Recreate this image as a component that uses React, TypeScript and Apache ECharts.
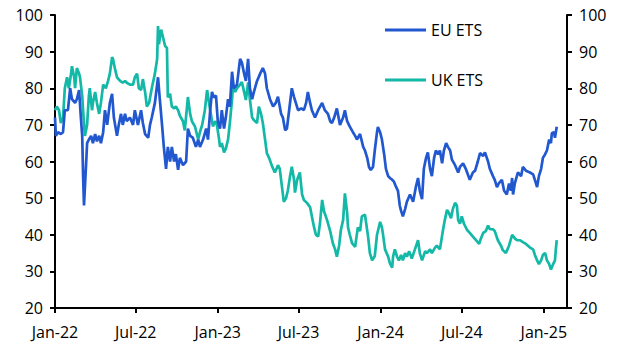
import React, { useEffect, useRef } from "react";
import * as echarts from "echarts";

// Days since 2022-01-01
const euDays = [0,2,7,13,18,22,29,34,38,45,49,54,58,61,63,65,70,72,76,81,85,90,94,99,103,108,112,117,123,128,132,139,143,148,152,157,161,168,175,179,186,193,197,202,209,213,217,224,231,235,240,244,249,253,258,262,267,271,276,280,287,294,298,303,309,316,321,325,332,339,343,348,352,356,361,365,370,374,379,383,388,392,397,401,408,415,419,424,428,433,437,442,446,453,460,466,471,475,482,489,495,500,507,511,516,520,525,531,536,540,545,552,558,563,567,572,576,583,590,599,605,612,617,621,626,632,639,646,650,655,661,668,673,677,684,691,695,700,704,708,713,717,722,724,729,733,738,742,747,751,756,760,765,769,773,776,780,785,789,796,803,809,814,818,823,827,832,836,841,845,850,854,859,863,868,872,877,881,886,890,897,904,908,915,921,930,937,942,948,953,960,964,971,975,982,986,991,995,1002,1007,1013,1018,1022,1025,1027,1031,1038,1045,1049,1056,1065,1072,1076,1081,1085,1090,1094,1099,1103,1108,1112,1114,1119,1121,1125];
const euValues = [72,67,68,67.5,68,74,74,80,77,76,77,79.5,72,67,56,48,60,65,66,67,65,67.5,65.5,67,65,68,74,70,76,78.5,72,67,70,73,70,73,71,72,70,74,70,74,70.5,67.5,66.5,70,72,76,83,77,70,64,58,64,60,64,60,62,57.7,61,59,60,69,67,66.5,64,66,64,66,69,66,74,79,77.5,78,71,69,74,69,72,77,75,84.5,80,81,88,87,84,82,88,80,77,79,82,84,85.5,84,80,77,75,76,77.7,73,72,68.5,69,74,80,77.6,76,74,74.5,74,76,79,76,74,72,74,76,74,73,71,70.5,72,74.5,70,72,74,71,69.5,68,67,66,67.5,64,63,61,58.5,57.7,58.5,63,68,69.4,68,66,62,58,56,55.5,55,54.5,53,52,48,46.5,45,47,49,51,49,53,55.5,52,49.7,58,61,62.5,58,56,61,63,62,63,59.5,63,65,64,63,60.5,59,57,58.5,59.5,58,55,57,57.5,60,62.3,61.5,62.5,60,58,56,55,53,54,55,52,51,54,52,55.5,51,54,57,56,58.5,57.5,57,56.5,55,53,56,58,61,62,63,66,65,67.7,68,66.5,69.5];

const ukDays = [0,4,9,13,18,22,27,31,36,38,43,45,49,54,56,61,63,67,72,76,78,83,85,90,94,99,103,108,114,119,123,128,130,135,139,146,152,157,161,168,175,179,184,188,193,197,202,206,211,217,224,229,231,233,238,242,247,251,253,258,262,267,271,276,280,287,291,298,303,307,314,321,325,330,336,341,348,354,359,363,368,370,374,379,383,388,392,397,399,404,408,415,419,424,428,433,437,442,446,453,457,462,466,471,475,480,487,493,500,504,509,513,518,522,527,531,536,538,543,549,554,558,565,572,576,581,585,590,594,599,603,610,617,623,628,632,637,641,646,650,655,657,661,666,673,679,684,688,695,702,706,711,717,722,729,733,735,740,747,751,756,758,762,767,771,776,780,785,789,794,800,807,814,818,823,830,834,841,845,852,856,863,870,874,879,883,888,892,897,901,904,908,912,917,924,930,937,944,951,955,960,966,971,975,982,986,993,1000,1004,1011,1018,1025,1031,1036,1043,1049,1056,1065,1072,1076,1081,1085,1090,1094,1099,1103,1108,1112,1117,1121,1123,1125];
const ukValues = [74,75,74,70.5,72,80,83,80,84,86,83,80,85.5,84,83,78,74,67,70,78,80,74,76,79,76,73,76,81,80,82,84,88.5,88,85,83,82,81.5,82,81.5,81,81,83,84,80,79.5,82.5,79,75,76,80,84,88,97,92,96,94,91.5,91,77.5,78.5,75,74.5,75,74,72.5,71,68.5,77.6,73,71,69.5,66,68,70,74,79.5,74,69.6,71,70,66,64,65,62.5,63.5,66,70.5,77,80.4,79,80,81,81.7,79,76.8,81.6,77,72,71.3,70.5,75,73,70.5,66,62.3,61,58.6,57,59,58,53,49,50,52,56,58.6,55,51.5,55,57,51,49.5,48.7,47.5,45,42,40,39.5,43,49.5,46.5,44,41,37.7,36,34,37,41.3,44,51.3,46,42,40,37.7,36.7,42,41,45,45.5,39.5,35,33,34.2,40,43.5,42,40.5,36,34,32.2,31,34,36,34,33,34.5,33,35,34,35.5,33.5,36,38.5,35,33,35.5,35,36,35,36.5,37,36,41.3,44,46.8,46,44.5,47,48.7,48,44,43,45,43,41.3,40.5,39.5,38.5,37.5,39,40.5,41,42.5,41.5,41.5,41,38.5,37,35.8,35,37,40,39,38.5,38.5,38,37.5,36.5,36,34.5,33,32,33,34.5,35,33,32,30.5,32,33,36,38.5];

const tickDays = [0, 181, 365, 546, 730, 912, 1096];
const tickLabels = ["Jan-22", "Jul-22", "Jan-23", "Jul-23", "Jan-24", "Jul-24", "Jan-25"];
const seriesNames = ["EU ETS", "UK ETS"];
const yMin = 20;
const yMax = 100;
const yStep = 10;
const xMaxDay = 1148;

const FONT = "'Open Sans', sans-serif";

export default function App() {
  const ref = useRef<HTMLDivElement>(null);
  useEffect(() => {
    if (!ref.current) return;
    const chart = echarts.init(ref.current, null, { renderer: "svg" });
    const euData = euDays.map((d, i) => [d, euValues[i]]);
    const ukData = ukDays.map((d, i) => [d, ukValues[i]]);
    const yAxisBase = {
      type: "value",
      min: yMin,
      max: yMax,
      interval: yStep,
      splitLine: { show: false },
      axisLine: { show: true, lineStyle: { color: "#000", width: 2 } },
      axisTick: { show: true, length: 5, lineStyle: { color: "#000", width: 2 } },
      axisLabel: { color: "#000", fontSize: 16, fontFamily: FONT, margin: 12 },
    };
    chart.setOption({
      animation: false,
      grid: { left: 55, right: 61, top: 15, bottom: 46, containLabel: false },
      legend: {
        data: seriesNames,
        orient: "vertical",
        left: 385,
        top: 20,
        padding: 0,
        itemWidth: 41,
        itemHeight: 3,
        itemGap: 30,
        icon: "rect",
        textStyle: { color: "#000", fontSize: 16, fontFamily: FONT, lineHeight: 20 },
      },
      xAxis: {
        type: "value",
        min: 0,
        max: xMaxDay,
        splitLine: { show: false },
        axisLine: { show: true, lineStyle: { color: "#000", width: 2 } },
        axisTick: { show: true, length: 5, customValues: tickDays, lineStyle: { color: "#000", width: 2 } },
        axisLabel: {
          color: "#000",
          fontSize: 16,
          fontFamily: FONT,
          margin: 16,
          customValues: tickDays,
          formatter: (v: number) => {
            const i = tickDays.indexOf(Math.round(v));
            return i >= 0 ? tickLabels[i] : "";
          },
        },
      },
      yAxis: [
        { ...yAxisBase, position: "left" },
        { ...yAxisBase, position: "right" },
      ],
      series: [
        {
          name: seriesNames[0],
          type: "line",
          data: euData,
          showSymbol: false,
          symbol: "none",
          lineStyle: { color: "#2157CF", width: 2.7 },
          itemStyle: { color: "#2157CF" },
          z: 3,
        },
        {
          name: seriesNames[1],
          type: "line",
          data: ukData,
          showSymbol: false,
          symbol: "none",
          lineStyle: { color: "#13B8A6", width: 2.7 },
          itemStyle: { color: "#13B8A6" },
          z: 2,
        },
      ],
    });
    return () => chart.dispose();
  }, []);
  return <div ref={ref} style={{ width: 628, height: 354, position: "absolute", left: 0, top: 0 }} />;
}
